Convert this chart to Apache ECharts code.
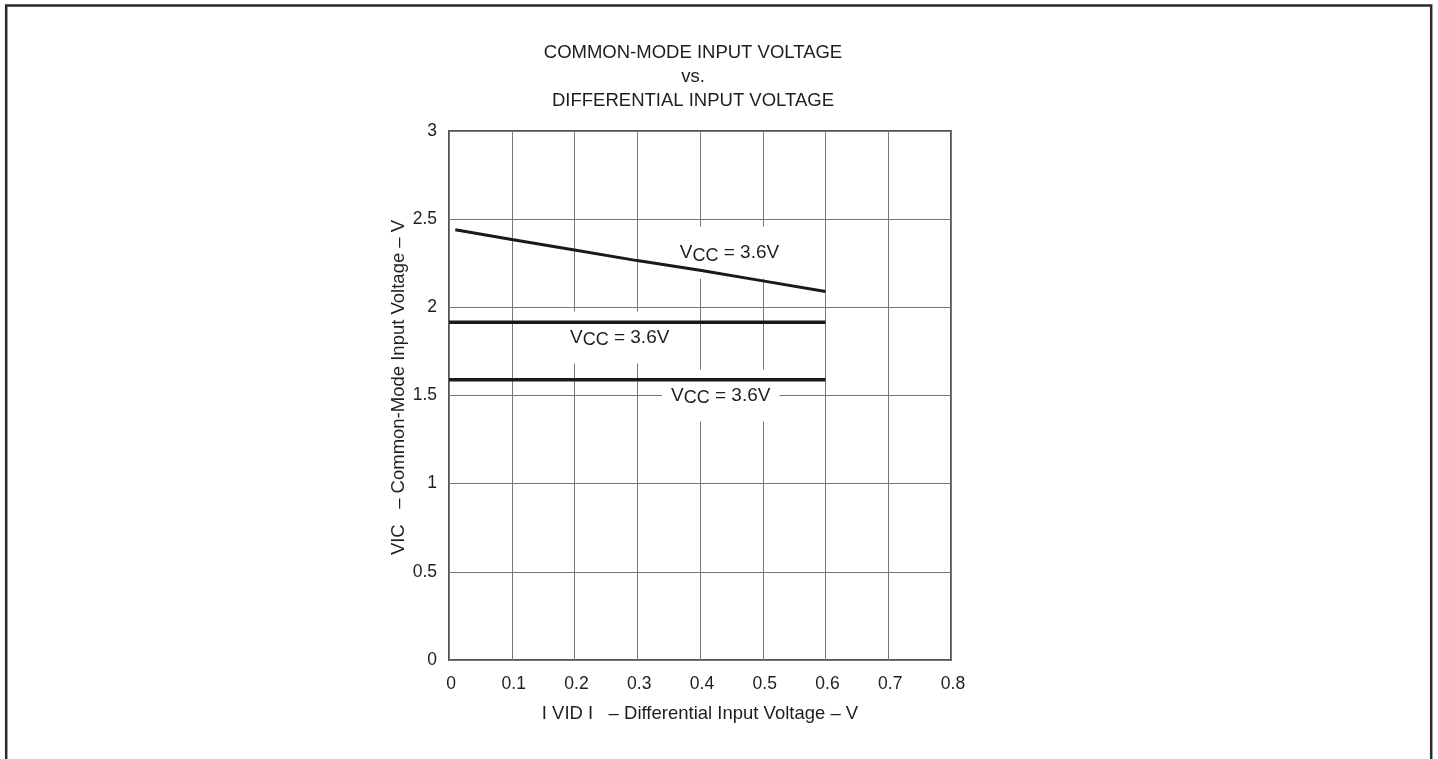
<!DOCTYPE html>
<html>
<head>
<meta charset="utf-8">
<script src="https://cdn.jsdelivr.net/npm/echarts@6/dist/echarts.min.js"></script>
<style>
html,body{margin:0;padding:0;background:#fff;}
#chart{width:1438px;height:759px;}
</style>
</head>
<body>
<div id="chart"></div>
<script>
// ---- data ----
var xTicks = [0, 0.1, 0.2, 0.3, 0.4, 0.5, 0.6, 0.7, 0.8];
var yTicks = [0, 0.5, 1, 1.5, 2, 2.5, 3];
var curveX = [0.01, 0.1, 0.2, 0.3, 0.4, 0.5, 0.6];
var curveY = [2.44, 2.385, 2.325, 2.265, 2.21, 2.15, 2.09];
var midX = [0, 0.6];
var midY = [1.915, 1.915];
var lowX = [0, 0.6];
var lowY = [1.59, 1.59];
var curveLabel = 'V{s|CC} = 3.6V';
var midLabel = 'V{s|CC} = 3.6V';
var lowLabel = 'V{s|CC} = 3.6V';
var titleLines = ['COMMON-MODE INPUT VOLTAGE', 'vs.', 'DIFFERENTIAL INPUT VOLTAGE'];
var xName = 'I V{s|ID} I   \u2013 Differential Input Voltage \u2013 V';
var yName = 'VIC   \u2013 Common-Mode Input Voltage \u2013 V';

function pairs(xs, ys) { return xs.map(function (x, i) { return [x, ys[i]]; }); }

var FONT = '"Liberation Sans", Arial, Helvetica, sans-serif';
var TXT = '#1e1e1e';

var labelStyle = {
  show: true,
  position: [0, 0],
  align: 'center',
  verticalAlign: 'middle',
  color: TXT,
  opacity: 1,
  textBorderWidth: 0,
  fontFamily: FONT,
  fontSize: 19,
  lineHeight: 24,
  backgroundColor: '#fff',
  padding: [14, 9, 14, 9],
  rich: {
    s: { fontFamily: FONT, fontSize: 18, lineHeight: 14, verticalAlign: 'bottom', color: TXT }
  }
};

var chart = echarts.init(document.getElementById('chart'), null, { renderer: 'canvas' });
chart.setOption({
  animation: false,
  backgroundColor: '#fff',
  title: {
    text: titleLines.join('\n'),
    left: 693,
    top: 41,
    padding: 0,
    textAlign: 'center',
    textStyle: { fontFamily: FONT, fontSize: 18.5, fontWeight: 'normal', color: TXT, lineHeight: 24 }
  },
  graphic: [{
    type: 'rect',
    shape: { x: 6.2, y: 5.5, width: 1425, height: 800 },
    style: { fill: 'none', stroke: '#2a2a2a', lineWidth: 2.5 },
    silent: true, z: 100
  }],
  grid: {
    left: 449, top: 131, right: 487, bottom: 99,
    show: true, borderColor: '#555', borderWidth: 2, backgroundColor: 'transparent'
  },
  xAxis: {
    type: 'value', min: xTicks[0], max: xTicks[xTicks.length - 1], interval: 0.1,
    axisLine: { show: false }, axisTick: { show: false },
    splitLine: { show: true, lineStyle: { color: '#777', width: 1 } },
    axisLabel: { color: TXT, fontFamily: FONT, fontSize: 17.5, margin: 15, padding: [0, 0, 0, 4],
      formatter: function (v) { return String(Math.round(v * 10) / 10); } },
    name: xName, nameLocation: 'middle', nameGap: 44,
    nameTextStyle: { color: TXT, fontFamily: FONT, fontSize: 18.5,
      rich: { s: { fontFamily: FONT, fontSize: 18.5, lineHeight: 14, verticalAlign: 'bottom', color: TXT } } }
  },
  yAxis: {
    type: 'value', min: yTicks[0], max: yTicks[yTicks.length - 1], interval: 0.5,
    axisLine: { show: false }, axisTick: { show: false },
    splitLine: { show: true, lineStyle: { color: '#777', width: 1 } },
    axisLabel: { color: TXT, fontFamily: FONT, fontSize: 17.5, margin: 12,
      formatter: function (v) { return String(v); } },
    name: yName, nameLocation: 'middle', nameGap: 34, nameRotate: 90,
    nameTextStyle: { color: TXT, fontFamily: FONT, fontSize: 18.5, padding: [0, 0, 0, 16] }
  },
  series: [
    { type: 'line', data: pairs(curveX, curveY), showSymbol: false, symbol: 'none', z: 3,
      lineStyle: { color: '#1a1a1a', width: 3 } },
    { type: 'line', data: pairs(midX, midY), showSymbol: false, symbol: 'none', z: 3,
      lineStyle: { color: '#1a1a1a', width: 3.5 } },
    { type: 'line', data: pairs(lowX, lowY), showSymbol: false, symbol: 'none', z: 3,
      lineStyle: { color: '#1a1a1a', width: 3.5 } },
    { type: 'scatter', z: 1, symbolSize: 0, itemStyle: { color: '#fff' }, silent: true,
      emphasis: { disabled: true },
      data: [
        { value: [0.447, 2.31], label: Object.assign({}, labelStyle, { formatter: curveLabel }) },
        { value: [0.272, 1.829], label: Object.assign({}, labelStyle, { formatter: midLabel }) },
        { value: [0.433, 1.50], label: Object.assign({}, labelStyle, { formatter: lowLabel }) }
      ]
    }
  ]
});
</script>
</body>
</html>
